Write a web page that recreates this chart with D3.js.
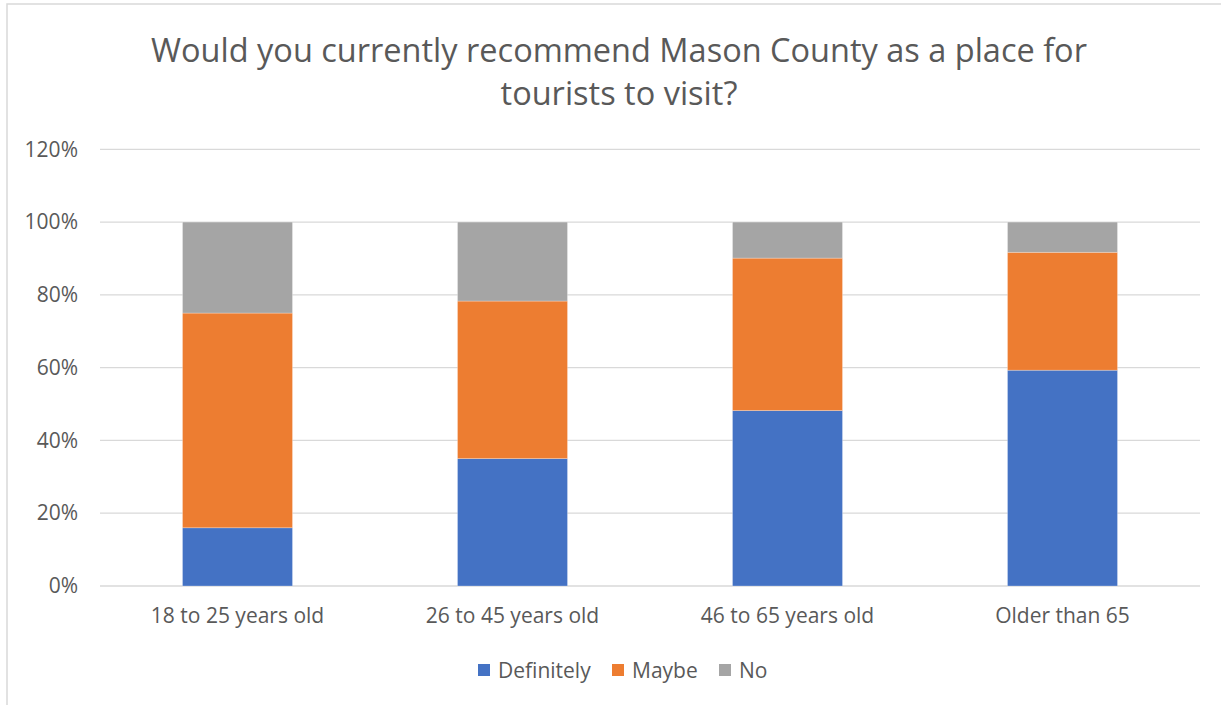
<!DOCTYPE html>
<html>
<head>
<meta charset="utf-8">
<script src="https://cdn.jsdelivr.net/npm/d3@7"></script>
<style>
  html, body { margin: 0; padding: 0; background: #fff; }
  svg { display: block; }
  text { font-family: "Open Sans", "Lato", sans-serif; fill: #595959; }
</style>
</head>
<body>
<svg id="chart" width="1221" height="705"></svg>
<script>
// Survey answers by age group (share of respondents, %)
const categories = ["18 to 25 years old", "26 to 45 years old", "46 to 65 years old", "Older than 65"];
const seriesNames = ["Definitely", "Maybe", "No"];
const definitely = [16, 35, 48.2, 59.3];
const maybe = [59, 43.3, 41.9, 32.4];
const no = [25, 21.7, 9.9, 8.3];
const tickValues = [0, 20, 40, 60, 80, 100, 120];
const colors = ["#4472c4", "#ed7d31", "#a5a5a5"];

const svg = d3.select("#chart");
const W = 1221, H = 705;
const plot = { left: 100, right: 1200, top: 149.3, bottom: 586 };
const labelFont = 21;

// chart frame
svg.append("path")
  .attr("d", `M7,${H} L7,4 L${W},4`)
  .attr("fill", "none").attr("stroke", "#d9d9d9").attr("stroke-width", 1.5);

// title
const title = svg.append("text")
  .attr("text-anchor", "middle")
  .attr("font-size", 32.5);
title.append("tspan").attr("x", 619).attr("y", 62)
  .text("Would you currently recommend Mason County as a place for");
title.append("tspan").attr("x", 619).attr("y", 105)
  .text("tourists to visit?");

const x = d3.scaleBand()
  .domain(categories)
  .range([plot.left, plot.right])
  .paddingInner(0.6)
  .paddingOuter(0.3);

const y = d3.scaleLinear().domain([0, 120]).range([plot.bottom, plot.top]);

// gridlines
svg.append("g")
  .selectAll("line")
  .data(tickValues)
  .join("line")
  .attr("x1", plot.left).attr("x2", plot.right)
  .attr("y1", d => y(d)).attr("y2", d => y(d))
  .attr("stroke", "#d9d9d9").attr("stroke-width", 1.3);

// y axis labels
const yAxis = svg.append("g")
  .attr("transform", `translate(${plot.left - 22},0)`)
  .call(d3.axisLeft(y).tickValues(tickValues).tickFormat(d => d + "%").tickSize(0).tickPadding(0));
yAxis.select(".domain").remove();
yAxis.selectAll("text")
  .attr("font-size", labelFont)
  .attr("fill", "#595959")
  .style("font-family", '"Open Sans", "Lato", sans-serif');

// stacked bars
const rows = categories.map((c, i) => ({
  category: c, Definitely: definitely[i], Maybe: maybe[i], No: no[i]
}));
const stacked = d3.stack().keys(seriesNames)(rows);

svg.append("g")
  .selectAll("g")
  .data(stacked)
  .join("g")
  .attr("fill", (d, i) => colors[i])
  .selectAll("rect")
  .data(d => d)
  .join("rect")
  .attr("x", d => x(d.data.category))
  .attr("width", x.bandwidth())
  .attr("y", d => y(d[1]))
  .attr("height", d => y(d[0]) - y(d[1]))
  .attr("stroke", "#ffffff")
  .attr("stroke-opacity", 0.35)
  .attr("stroke-width", 0.75);

// category labels
const xAxis = svg.append("g")
  .attr("transform", `translate(0,${plot.bottom})`)
  .call(d3.axisBottom(x).tickSize(0).tickPadding(22));
xAxis.select(".domain").remove();
xAxis.selectAll("text")
  .attr("font-size", labelFont)
  .attr("fill", "#595959")
  .style("font-family", '"Open Sans", "Lato", sans-serif');

// legend
const legendX = [478, 612, 719];
const legend = svg.append("g")
  .selectAll("g")
  .data(seriesNames)
  .join("g")
  .attr("transform", (d, i) => `translate(${legendX[i]},664)`);
legend.append("rect")
  .attr("width", 12).attr("height", 12)
  .attr("fill", (d, i) => colors[i]);
legend.append("text")
  .attr("x", 20).attr("y", 14)
  .attr("font-size", labelFont)
  .text(d => d);
</script>
</body>
</html>
